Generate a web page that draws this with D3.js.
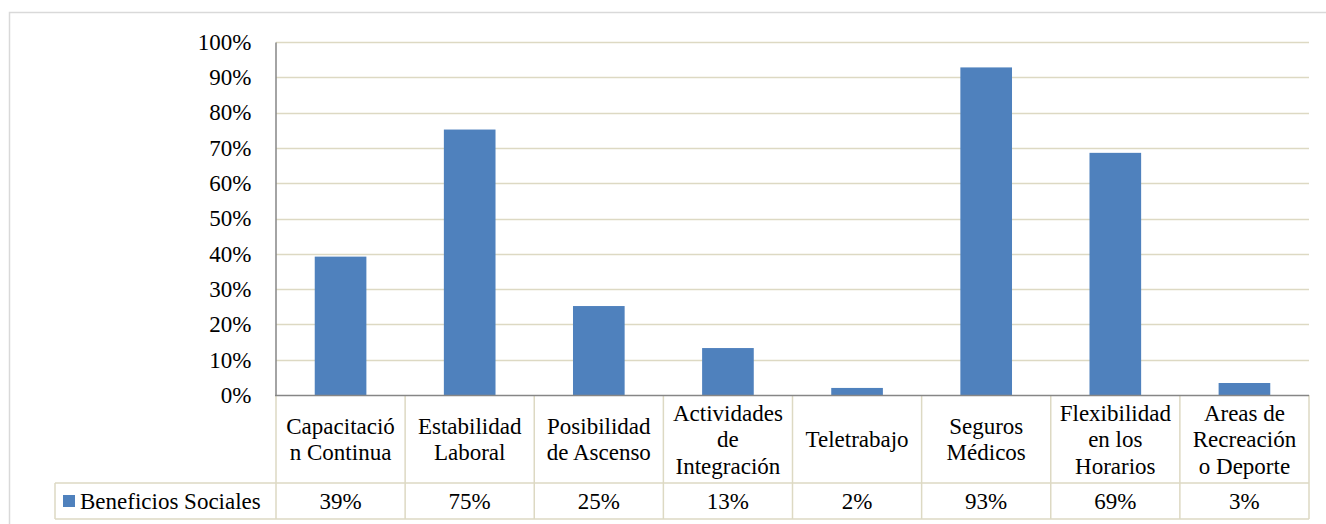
<!DOCTYPE html>
<html><head><meta charset="utf-8">
<script src="https://cdn.jsdelivr.net/npm/d3@7"></script>
<style>body{margin:0;background:#fff}svg{display:block}
svg text, svg tspan{font-family:"Liberation Serif" !important;}</style>
</head><body><svg id="c" width="1326" height="524" font-family="Liberation Serif"></svg>
<script>
const categories = [["Capacitació","n Continua"],["Estabilidad","Laboral"],["Posibilidad","de Ascenso"],["Actividades","de","Integración"],["Teletrabajo"],["Seguros","Médicos"],["Flexibilidad","en los","Horarios"],["Areas de","Recreación","o Deporte"]];
const values = [0.392, 0.752, 0.252, 0.133, 0.02, 0.928, 0.686, 0.034];
const valueLabels = ["39%","75%","25%","13%","2%","93%","69%","3%"];
const seriesName = "Beneficios Sociales";
const yTicks = [0,0.1,0.2,0.3,0.4,0.5,0.6,0.7,0.8,0.9,1.0];

const svg = d3.select("#c");
const FF = "Liberation Serif";
const FS = 23;
const L = 276, R = 1309, T = 42, B = 395, rowY = 483, bot = 519, legL = 55;
const grid = "#ddd9c3";
function ff(sel){ return sel.style("font-family", FF, "important").style("font-size", FS+"px"); }

svg.append("rect").attr("x",9.5).attr("y",12.5).attr("width",1340).attr("height",530)
  .attr("fill","none").attr("stroke","#d9d9d9").attr("stroke-width",1.5);

const x = d3.scaleBand().domain(d3.range(categories.length)).range([L,R]).paddingInner(0.6).paddingOuter(0.3);
const xc = d3.scaleBand().domain(d3.range(categories.length)).range([L,R]);
const y = d3.scaleLinear().domain([0,1]).range([B,T]);

svg.append("g").selectAll("line").data(yTicks.slice(1)).join("line")
  .attr("x1",L).attr("x2",R).attr("y1",d=>Math.round(y(d))+0.5).attr("y2",d=>Math.round(y(d))+0.5)
  .attr("stroke",grid).attr("stroke-width",1.5);

const yAxis = d3.axisLeft(y).tickValues(yTicks).tickFormat(d3.format(".0%")).tickSize(0).tickPadding(10);
const ga = svg.append("g").attr("transform",`translate(${L-0.5},0)`).call(yAxis);
ga.attr("font-family",FF).attr("font-size",FS);
ga.select(".domain").attr("stroke","#868686").attr("stroke-width",1.5);
ff(ga.selectAll("text")).attr("fill","#000").attr("dx",-14);

svg.append("g").selectAll("rect").data(values).join("rect")
  .attr("x",(d,i)=>x(i)).attr("width",x.bandwidth())
  .attr("y",d=>y(d)).attr("height",d=>B-y(d)).attr("fill","#4f81bd");

const tg = svg.append("g").attr("stroke",grid).attr("stroke-width",1.5);
xc.domain().concat([categories.length]).forEach(i=>{
  const xx = i<categories.length ? xc(i) : R;
  tg.append("line").attr("x1",xx).attr("x2",xx).attr("y1",B).attr("y2",bot);
});
tg.append("line").attr("x1",legL).attr("x2",R).attr("y1",rowY).attr("y2",rowY);
tg.append("line").attr("x1",legL).attr("x2",R).attr("y1",bot).attr("y2",bot);
tg.append("line").attr("x1",legL).attr("x2",legL).attr("y1",rowY).attr("y2",bot);

svg.append("line").attr("x1",L-1).attr("x2",R).attr("y1",B+0.5).attr("y2",B+0.5).attr("stroke","#868686").attr("stroke-width",1.5);

const lh = 26.5, cy = (B+rowY)/2;
categories.forEach((lines,i)=>{
  const t = ff(svg.append("text")).attr("text-anchor","middle").attr("fill","#000");
  lines.forEach((ln,j)=>{
    t.append("tspan").attr("x",xc(i)+xc.bandwidth()/2)
     .attr("y",cy + (j-(lines.length-1)/2)*lh).attr("dy","0.35em").text(ln);
  });
});

ff(svg.append("g").selectAll("text").data(valueLabels).join("text"))
  .attr("x",(d,i)=>xc(i)+xc.bandwidth()/2).attr("y",(rowY+bot)/2).attr("dy","0.35em")
  .attr("text-anchor","middle").text(d=>d);

svg.append("rect").attr("x",63).attr("y",495).attr("width",12).attr("height",12).attr("fill","#4f81bd");
ff(svg.append("text")).attr("x",80).attr("y",(rowY+bot)/2).attr("dy","0.35em").text(seriesName);
</script></body></html>
